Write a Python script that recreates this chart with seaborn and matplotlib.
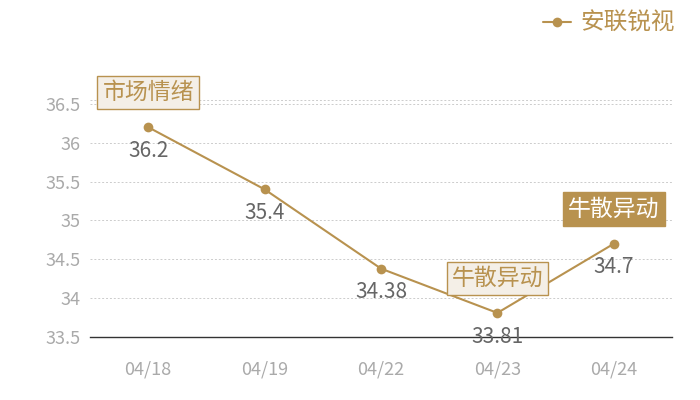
import matplotlib
matplotlib.use("Agg")
import matplotlib.pyplot as plt
import seaborn as sns
import pandas as pd

dates = ["04/18", "04/19", "04/22", "04/23", "04/24"]
values = [36.2, 35.4, 34.38, 33.81, 34.7]
series_name = "安联锐视"
yticks = [33.5, 34, 34.5, 35, 35.5, 36, 36.5]
ytick_labels = ["33.5", "34", "34.5", "35", "35.5", "36", "36.5"]
tags = [(0, "市场情绪", "light"), (3, "牛散异动", "light"), (4, "牛散异动", "dark")]

GOLD = "#b8924f"
CREAM = "#f4efe7"

sns.set_theme(style="white")
plt.rcParams['font.family'] = ['Noto Sans CJK SC', 'DejaVu Sans']

df = pd.DataFrame({"x": range(len(dates)), "y": values})

fig = plt.figure(figsize=(7, 4), dpi=100)
ax = fig.add_axes([90/700, 63/400, 582/700, 237/400])

sns.lineplot(data=df, x="x", y="y", ax=ax, color=GOLD, lw=1.5, marker="o",
             markersize=7, markeredgewidth=0, label=series_name)

ax.set_xlim(-0.5, len(dates) - 0.5)
ax.set_ylim(33.5, 36.55)
ax.set_yticks(yticks)
ax.set_yticklabels(ytick_labels)
ax.set_xticks(range(len(dates)))
ax.set_xticklabels(dates)
ax.set_xlabel("")
ax.set_ylabel("")
ax.tick_params(axis="y", length=0, pad=7, labelsize=13, labelcolor="#aaaaaa")
ax.tick_params(axis="x", length=0, pad=17, labelsize=13, labelcolor="#aaaaaa")
for t in ax.get_yticks():
    ax.axhline(t, color="#cccccc", lw=0.7, ls=(0, (2, 2)), zorder=0)
ax.axhline(36.55, color="#cccccc", lw=0.7, ls=(0, (2, 2)), zorder=0)
for s in ["top", "right", "left"]:
    ax.spines[s].set_visible(False)
ax.spines["bottom"].set_color("#333333")
ax.spines["bottom"].set_linewidth(1)

for i, v in enumerate(values):
    ax.annotate(f"{v:g}", (i, v), xytext=(0, -17), textcoords="offset points",
                ha="center", va="center", fontsize=15, color="#666666")

for i, text, style in tags:
    if style == "light":
        bbox = dict(boxstyle="square,pad=0.22", fc=CREAM, ec=GOLD, lw=1)
        tc = GOLD
    else:
        bbox = dict(boxstyle="square,pad=0.22", fc=GOLD, ec=GOLD, lw=1)
        tc = "white"
    ax.annotate(text, (i, values[i]), xytext=(0, 25), textcoords="offset points",
                ha="center", va="center", fontsize=16.5, color=tc, bbox=bbox,
                zorder=5)

leg = ax.legend(loc="upper right", bbox_to_anchor=(687/700, 1.0),
                bbox_transform=fig.transFigure, frameon=False, fontsize=17,
                handlelength=1.2, handletextpad=0.4, borderaxespad=0.1)
for t in leg.get_texts():
    t.set_color(GOLD)

fig.savefig("out.png", dpi=100)
